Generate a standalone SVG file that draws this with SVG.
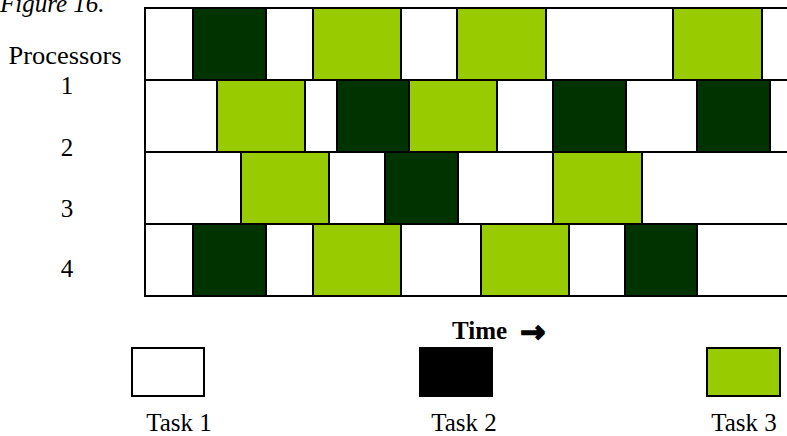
<svg xmlns="http://www.w3.org/2000/svg" width="787" height="436" viewBox="0 0 787 436">
<style>
  .lbl { font-family: "Liberation Serif", "Times New Roman", serif; font-size: 25px; fill: #000; }
  .num { font-family: "Liberation Serif", "Times New Roman", serif; font-size: 25px; fill: #000; text-anchor: middle; }
  .c { stroke: #000; stroke-width: 2; }
  .w { fill: #ffffff; }
  .d { fill: #003300; }
  .g { fill: #99cc00; }
</style>
<rect x="0" y="0" width="787" height="436" fill="#ffffff"/>
<text class="lbl" x="0" y="12" font-style="italic" font-size="27">Figure 16.</text>

<g id="labels">
  <text class="num" x="65" y="64" textLength="113" lengthAdjust="spacingAndGlyphs">Processors</text>
  <text class="num" x="67" y="94">1</text>
  <text class="num" x="67" y="156">2</text>
  <text class="num" x="67" y="217">3</text>
  <text class="num" x="67" y="277">4</text>
</g>

<g id="processor-1">
  <rect class="c w" x="145" y="8" width="48" height="72"/>
  <rect class="c d" x="193" y="8" width="73" height="72"/>
  <rect class="c w" x="266" y="8" width="47" height="72"/>
  <rect class="c g" x="313" y="8" width="88" height="72"/>
  <rect class="c w" x="401" y="8" width="56" height="72"/>
  <rect class="c g" x="457" y="8" width="89" height="72"/>
  <rect class="c w" x="546" y="8" width="127" height="72"/>
  <rect class="c g" x="673" y="8" width="89" height="72"/>
  <rect class="c w" x="762" y="8" width="60" height="72"/>
</g>
<g id="processor-2">
  <rect class="c w" x="145" y="80" width="72" height="72"/>
  <rect class="c g" x="217" y="80" width="88" height="72"/>
  <rect class="c w" x="305" y="80" width="32" height="72"/>
  <rect class="c d" x="337" y="80" width="72" height="72"/>
  <rect class="c g" x="409" y="80" width="88" height="72"/>
  <rect class="c w" x="497" y="80" width="56" height="72"/>
  <rect class="c d" x="553" y="80" width="73" height="72"/>
  <rect class="c w" x="626" y="80" width="71" height="72"/>
  <rect class="c d" x="697" y="80" width="73" height="72"/>
  <rect class="c w" x="770" y="80" width="50" height="72"/>
</g>
<g id="processor-3">
  <rect class="c w" x="145" y="152" width="96" height="72"/>
  <rect class="c g" x="241" y="152" width="88" height="72"/>
  <rect class="c w" x="329" y="152" width="56" height="72"/>
  <rect class="c d" x="385" y="152" width="73" height="72"/>
  <rect class="c w" x="458" y="152" width="95" height="72"/>
  <rect class="c g" x="553" y="152" width="89" height="72"/>
  <rect class="c w" x="642" y="152" width="180" height="72"/>
</g>
<g id="processor-4">
  <rect class="c w" x="145" y="224" width="48" height="72"/>
  <rect class="c d" x="193" y="224" width="73" height="72"/>
  <rect class="c w" x="266" y="224" width="47" height="72"/>
  <rect class="c g" x="313" y="224" width="88" height="72"/>
  <rect class="c w" x="401" y="224" width="80" height="72"/>
  <rect class="c g" x="481" y="224" width="88" height="72"/>
  <rect class="c w" x="569" y="224" width="56" height="72"/>
  <rect class="c d" x="625" y="224" width="72" height="72"/>
  <rect class="c w" x="697" y="224" width="125" height="72"/>
</g>

<g id="time-axis">
  <text class="lbl" x="452" y="339" font-weight="bold">Time</text>
  <text x="520" y="342" font-family="DejaVu Sans, sans-serif" font-weight="bold" font-size="30" stroke="#000" stroke-width="1.6" stroke-linejoin="miter">→</text>
</g>

<g id="legend-task1">
  <rect x="132" y="348" width="72" height="48" fill="#ffffff" stroke="#000" stroke-width="2"/>
  <text class="num" x="179" y="431">Task 1</text>
</g>
<g id="legend-task2">
  <rect x="419" y="347" width="74" height="50" fill="#000000"/>
  <text class="num" x="464" y="431">Task 2</text>
</g>
<g id="legend-task3">
  <rect x="707" y="348" width="73" height="48" fill="#99cc00" stroke="#000" stroke-width="2"/>
  <text class="num" x="744" y="431">Task 3</text>
</g>
</svg>
